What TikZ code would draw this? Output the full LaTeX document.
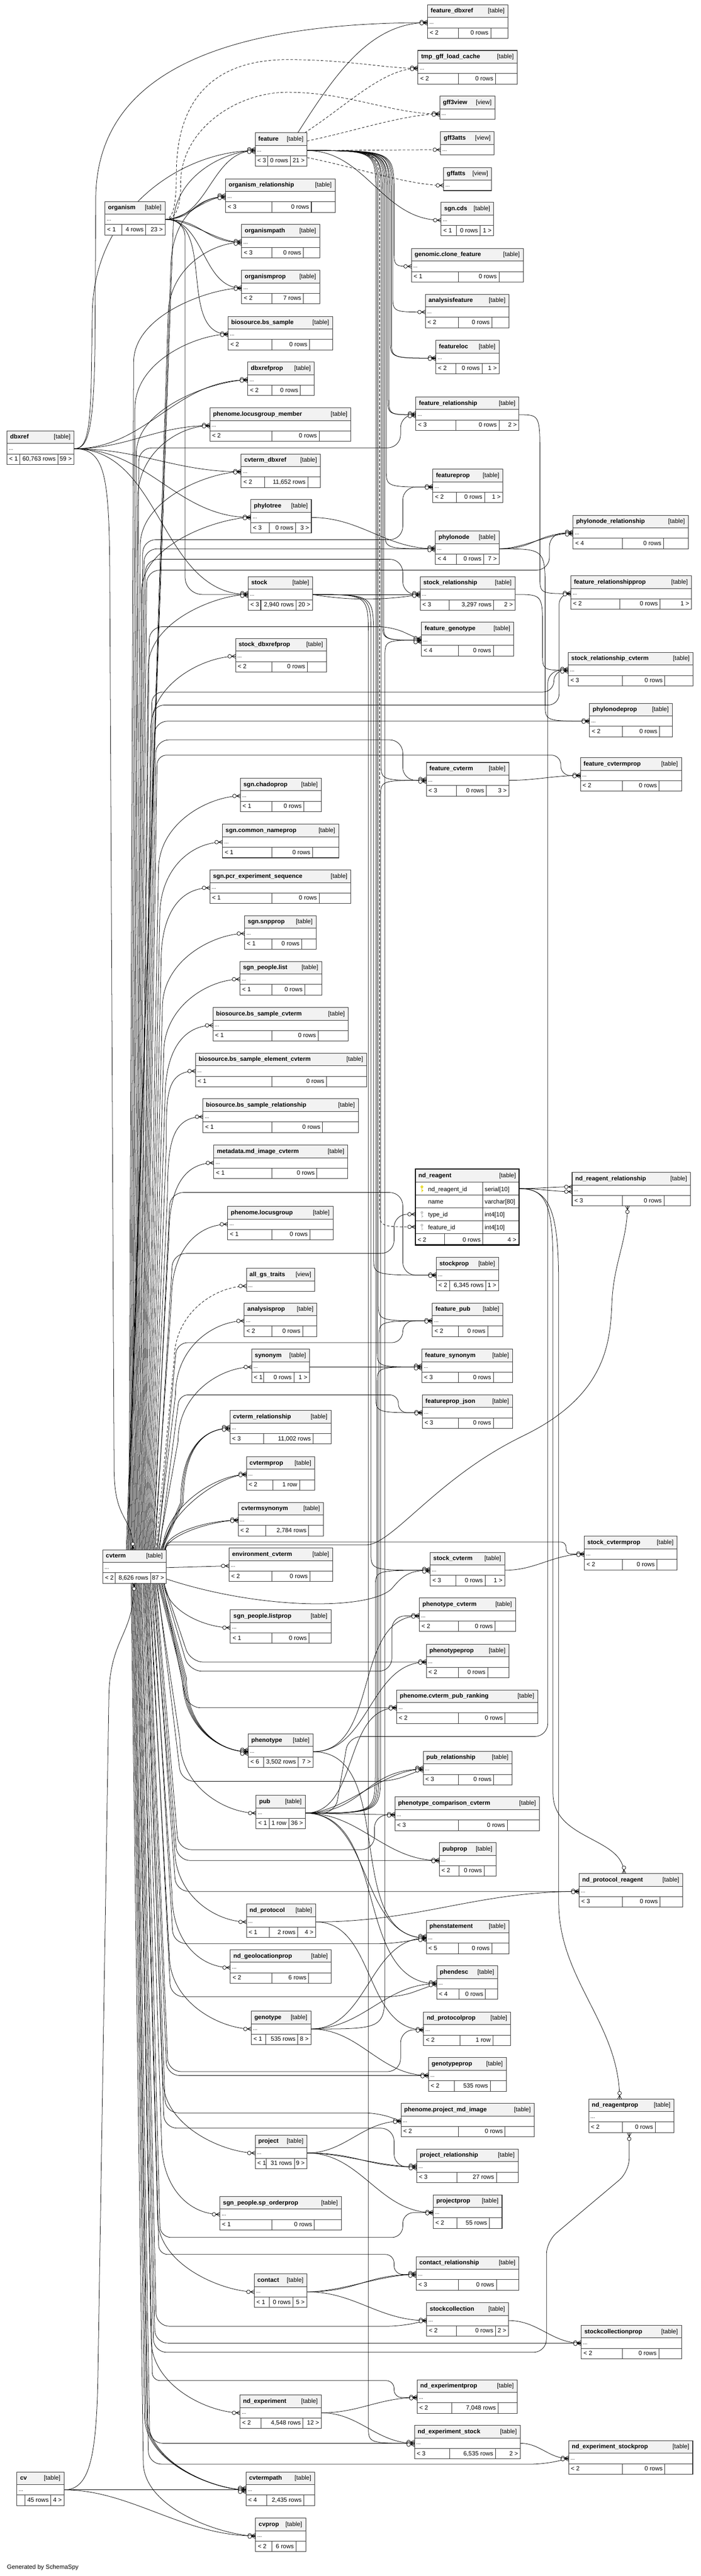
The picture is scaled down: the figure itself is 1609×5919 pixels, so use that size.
\documentclass[tikz,border=0pt]{standalone}
\usepackage{fontspec}
\setmainfont{Liberation Sans}
\usetikzlibrary{calc}
\definecolor{titlefill}{HTML}{F2F2F2}
\definecolor{tborder}{HTML}{333333}
\definecolor{keyyel}{HTML}{E2D200}
\definecolor{keygray}{HTML}{BDBDBD}
\pgfdeclarelayer{bg}
\pgfdeclarelayer{edges}
\pgfsetlayers{bg,edges,main}
\tikzset{
 fk/.style={draw=black, line width=0.9pt},
 imp/.style={fk, dash pattern=on 6pt off 4pt},
 tline/.style={draw=tborder, line width=1.2pt},
 ttitle/.style={anchor=base west, inner sep=0pt, font=\fontsize{14}{16}\selectfont\bfseries},
 ttag/.style={anchor=base east, inner sep=0pt, font=\fontsize{14}{16}\selectfont},
 tleft/.style={anchor=base west, inner sep=0pt, font=\fontsize{14}{16}\selectfont},
 tright/.style={anchor=base east, inner sep=0pt, font=\fontsize{14}{16}\selectfont},
 tdots/.style={anchor=base west, inner sep=0pt, font=\fontsize{12}{14}\selectfont},
 crow/.pic={
   \draw[line width=0.9pt] (-9,0) -- (0,-4.5) (-9,0) -- (0,0) (-9,0) -- (0,4.5);
   \draw[line width=0.9pt, fill=white] (-13.5,0) circle[radius=4.2pt];
 }
}
\def\tblfoot#1|#2|#3\relax{\def\tfa{#1}\def\tfb{#2}\def\tfc{#3}}
\newcommand\tbl[8]{%
 \tblfoot#8\relax
 \fill[white] (#2,#3) rectangle (#4,#3+77);
 \fill[titlefill] (#2,#3) rectangle (#4,#3+29);
 \draw[tline] (#2,#3+29) -- (#4,#3+29) (#2,#3+53) -- (#4,#3+53) (#5,#3+53) -- (#5,#3+77) (#6,#3+53) -- (#6,#3+77);
 \draw[tline] (#2,#3) rectangle (#4,#3+77);
 \node[ttitle] (#1-n) at (#2+7,#3+18.5) {#7};
 \node[ttag] (#1-k) at (#4-8,#3+18.5) {[table]};
 \node[tdots] (#1-d) at (#2+4,#3+44) {...};
 \node[tleft] (#1-fa) at (#2+5,#3+69) {\tfa};
 \node[tright] (#1-fb) at (#6-5,#3+69) {\tfb};
 \node[tright] (#1-fc) at (#4-5,#3+69) {\tfc};
 \coordinate (#1) at (#2,#3+41);
 \coordinate (#1-r) at (#4,#3+41);
}
\newcommand\vw[5]{%
 \fill[white] (#2,#3) rectangle (#4,#3+53);
 \fill[titlefill] (#2,#3) rectangle (#4,#3+29);
 \draw[tline] (#2,#3+29) -- (#4,#3+29);
 \draw[tline] (#2,#3) rectangle (#4,#3+53);
 \node[ttitle] (#1-n) at (#2+7,#3+18.5) {#5};
 \node[ttag] (#1-k) at (#4-8,#3+18.5) {[view]};
 \node[tdots] (#1-d) at (#2+4,#3+44) {...};
 \coordinate (#1) at (#2,#3+41);
}
\newcommand\mkr[2]{\foreach \mi in {1,...,#2}{\pic at ($(#1)+(0,{(\mi-(#2+1)/2)*3})$) {crow};}}
\newcommand\trk[8][fk]{\draw[#1] (#2) .. controls (#4,#3) .. (#4,{#3+(#7)}) -- (#4,{#6-(#8)}) .. controls (#4,#6) .. (#5);}
\newcommand\cvu[5][fk]{\draw[#1] ([xshift=#2pt]cvt-top) -- (#3,{#5+170}) .. controls (#3,{#5+60}) and ($(#4)+(-70,0)$) .. (#4);}
\newcommand\cvdd[4]{\draw[fk] ([xshift=#1pt]cvt-bot) -- (#2,{#4-170}) .. controls (#2,{#4-60}) and ($(#3)+(-70,0)$) .. (#3);}
\newcommand\cvx[8]{\draw[fk,rounded corners=#8pt] ([xshift=#2pt]cvt-#1) -- (#3,#4) -- (#5,#4) -- (#5,#7) -- (#6);}
\newcommand\cvd[5]{\draw[fk,rounded corners=30pt] ([xshift=#2pt]cvt-#1) -- (#3,#5) -- (#4);}
\newcommand\cvg[6]{\draw[fk,rounded corners=30pt] ([xshift=#2pt]cvt-#1) -- (#3,#4) -- (#5,#4) -- (#6);}
\begin{document}
\begin{tikzpicture}[x=1pt,y=-1pt]
\useasboundingbox (0,0) rectangle (1609,5919);
\begin{pgfonlayer}{bg}
\fill[white] (0,0) rectangle (1609,5919);
\end{pgfonlayer}

% ---------------- tables ----------------
\tbl{fdbx}{982}{11}{1167}{1053}{1127}{feature\_dbxref}{< 2|0 rows|}
\tbl{tgff}{960}{116}{1188}{1053}{1138}{tmp\_gff\_load\_cache}{< 2|0 rows|}
\vw{g3v}{1010}{221}{1137}{gff3view}
\vw{g3a}{1012}{303}{1135}{gff3atts}
\vw{gfa}{1019}{385}{1129}{gffatts}
\tbl{cds}{1013}{465}{1134}{1048}{1103}{sgn.cds}{< 1|0 rows|1 >}
\tbl{gcf}{945}{571}{1202}{1053}{1146}{genomic.clone\_feature}{< 1|0 rows|}
\tbl{anf}{977}{676}{1169}{1053}{1130}{analysisfeature}{< 2|0 rows|}
\tbl{floc}{1001}{782}{1146}{1047}{1107}{featureloc}{< 2|0 rows|1 >}
\tbl{frel}{955}{912}{1192}{1047}{1146}{feature\_relationship}{< 3|0 rows|2 >}
\tbl{feat}{586}{305}{705}{615}{667}{feature}{< 3|0 rows|21 >}
\tbl{orel}{518}{411}{770}{624}{715}{organism\_relationship}{< 3|0 rows|}
\tbl{org}{241}{463}{379}{280}{335}{organism}{< 1|4 rows|23 >}
\tbl{opath}{555}{516}{734}{624}{697}{organismpath}{< 3|0 rows|}
\tbl{oprop}{555}{621}{734}{624}{697}{organismprop}{< 2|7 rows|}
\tbl{bss}{524}{727}{764}{624}{711}{biosource.bs\_sample}{< 2|0 rows|}
\tbl{dbxp}{569}{832}{722}{624}{690}{dbxrefprop}{< 2|0 rows|}
\tbl{lgm}{482}{937}{806}{624}{733}{phenome.locusgroup\_member}{< 2|0 rows|}
\tbl{dbx}{16}{990}{170}{46}{133}{dbxref}{< 1|60,763 rows|59 >}
\tbl{cvdbx}{554}{1043}{736}{608}{707}{cvterm\_dbxref}{< 2|11,652 rows|}
\tbl{ptree}{576}{1148}{715}{619}{679}{phylotree}{< 3|0 rows|3 >}
\tbl{stock}{570}{1325}{718}{599}{680}{stock}{< 3|2,940 rows|20 >}
\tbl{sdbxp}{541}{1467}{750}{624}{706}{stock\_dbxrefprop}{< 2|0 rows|}
\tbl{chp}{552}{1788}{738}{624}{698}{sgn.chadoprop}{< 1|0 rows|}
\tbl{cnp}{511}{1894}{778}{624}{718}{sgn.common\_nameprop}{< 1|0 rows|}
\tbl{fprop}{994}{1078}{1155}{1048}{1113}{featureprop}{< 2|0 rows|1 >}
\tbl{pnode}{1000}{1220}{1146}{1048}{1111}{phylonode}{< 4|0 rows|7 >}
\tbl{srel}{965}{1325}{1183}{1032}{1134}{stock\_relationship}{< 3|3,297 rows|2 >}
\tbl{fgen}{968}{1430}{1180}{1053}{1133}{feature\_genotype}{< 4|0 rows|}
\tbl{fcvt}{979}{1752}{1169}{1048}{1117}{feature\_cvterm}{< 3|0 rows|3 >}
\tbl{pnrel}{1316}{1184}{1581}{1429}{1524}{phylonode\_relationship}{< 4|0 rows|}
\tbl{frelp}{1311}{1323}{1588}{1423}{1516}{feature\_relationshipprop}{< 2|0 rows|1 >}
\tbl{srcv}{1305}{1499}{1592}{1429}{1527}{stock\_relationship\_cvterm}{< 3|0 rows|}
\tbl{pnprop}{1354}{1616}{1544}{1429}{1515}{phylonodeprop}{< 2|0 rows|}
\tbl{fcvtp}{1333}{1741}{1565}{1429}{1514}{feature\_cvtermprop}{< 2|0 rows|}
\tbl{pcr}{482}{1999}{806}{624}{733}{sgn.pcr\_experiment\_sequence}{< 1|0 rows|}
\tbl{snp}{562}{2104}{726}{624}{693}{sgn.snpprop}{< 1|0 rows|}
\tbl{plist}{551}{2209}{739}{624}{700}{sgn\_people.list}{< 1|0 rows|}
\tbl{bssc}{489}{2315}{800}{624}{731}{biosource.bs\_sample\_cvterm}{< 1|0 rows|}
\tbl{bssec}{449}{2420}{842}{624}{750}{biosource.bs\_sample\_element\_cvterm}{< 1|0 rows|}
\tbl{bssr}{466}{2525}{823}{624}{741}{biosource.bs\_sample\_relationship}{< 1|0 rows|}
\tbl{mdic}{491}{2631}{799}{624}{728}{metadata.md\_image\_cvterm}{< 1|0 rows|}
\tbl{lg}{523}{2772}{765}{624}{712}{phenome.locusgroup}{< 1|0 rows|}
\vw{ags}{566}{2914}{723}{all\_gs\_traits}
\tbl{ndrr}{1314}{2694}{1586}{1429}{1525}{nd\_reagent\_relationship}{< 3|0 rows|}
\tbl{sprop}{1002}{2889}{1145}{1033}{1116}{stockprop}{< 2|6,345 rows|1 >}
\tbl{anp}{561}{2994}{728}{624}{695}{analysisprop}{< 2|0 rows|}
\tbl{syn}{578}{3100}{711}{605}{675}{synonym}{< 1|0 rows|1 >}
\tbl{cvrel}{528}{3241}{760}{606}{719}{cvterm\_relationship}{< 3|11,002 rows|}
\tbl{cvp}{566}{3347}{723}{627}{688}{cvtermprop}{< 2|1 row|}
\tbl{cvsyn}{547}{3452}{743}{610}{709}{cvtermsynonym}{< 2|2,784 rows|}
\tbl{envc}{526}{3557}{764}{624}{712}{environment\_cvterm}{< 2|0 rows|}
\tbl{cvt}{236}{3561}{382}{265}{346}{cvterm}{< 2|8,626 rows|87 >}
\tbl{lprop}{529}{3699}{760}{624}{710}{sgn\_people.listprop}{< 1|0 rows|}
\tbl{phen}{570}{3984}{719}{605}{685}{phenotype}{< 6|3,502 rows|7 >}
\tbl{fpub}{993}{2994}{1155}{1053}{1120}{feature\_pub}{< 2|0 rows|}
\tbl{fsyn}{969}{3100}{1177}{1053}{1133}{feature\_synonym}{< 3|0 rows|}
\tbl{fpj}{970}{3205}{1177}{1053}{1133}{featureprop\_json}{< 3|0 rows|}
\tbl{scv}{988}{3567}{1159}{1047}{1114}{stock\_cvterm}{< 3|0 rows|1 >}
\tbl{scvp}{1342}{3530}{1555}{1429}{1509}{stock\_cvtermprop}{< 2|0 rows|}
\tbl{phcv}{963}{3672}{1184}{1053}{1137}{phenotype\_cvterm}{< 2|0 rows|}
\tbl{php}{979}{3778}{1169}{1053}{1120}{phenotypeprop}{< 2|0 rows|}
\tbl{cpr}{911}{3883}{1235}{1053}{1160}{phenome.cvterm\_pub\_ranking}{< 2|0 rows|}
\tbl{pubrel}{972}{4024}{1176}{1053}{1134}{pub\_relationship}{< 3|0 rows|}
\tbl{pub}{588}{4125}{701}{618}{663}{pub}{< 1|1 row|36 >}
\tbl{pcc}{907}{4129}{1239}{1053}{1165}{phenotype\_comparison\_cvterm}{< 3|0 rows|}
\tbl{pubp}{1009}{4234}{1139}{1054}{1112}{pubprop}{< 2|0 rows|}
\tbl{npr}{1330}{4305}{1568}{1429}{1516}{nd\_protocol\_reagent}{< 3|0 rows|}
\tbl{ndp}{566}{4375}{725}{619}{684}{nd\_protocol}{< 1|2 rows|4 >}
\tbl{phst}{979}{4412}{1169}{1053}{1130}{phenstatement}{< 5|0 rows|}
\tbl{ngp}{529}{4480}{761}{624}{709}{nd\_geolocationprop}{< 2|6 rows|}
\tbl{phd}{1003}{4517}{1143}{1054}{1115}{phendesc}{< 4|0 rows|}
\tbl{gen}{577}{4621}{714}{610}{684}{genotype}{< 1|535 rows|8 >}
\tbl{ndpp}{973}{4623}{1173}{1056}{1132}{nd\_protocolprop}{< 2|1 row|}
\tbl{genp}{984}{4728}{1163}{1044}{1126}{genotypeprop}{< 2|535 rows|}
\tbl{nrp}{1352}{4823}{1548}{1429}{1505}{nd\_reagentprop}{< 2|0 rows|}
\tbl{pmi}{921}{4833}{1227}{1053}{1160}{phenome.project\_md\_image}{< 2|0 rows|}
\tbl{proj}{586}{4906}{705}{611}{676}{project}{< 1|31 rows|9 >}
\tbl{prel}{957}{4938}{1190}{1049}{1140}{project\_relationship}{< 3|27 rows|}
\tbl{pjp}{995}{5043}{1153}{1049}{1124}{projectprop}{< 2|55 rows|}
\tbl{spo}{505}{5047}{784}{624}{722}{sgn\_people.sp\_orderprop}{< 1|0 rows|}
\tbl{crel}{956}{5185}{1192}{1053}{1140}{contact\_relationship}{< 3|0 rows|}
\tbl{cont}{584}{5225}{705}{618}{673}{contact}{< 1|0 rows|5 >}
\tbl{scol}{980}{5291}{1168}{1048}{1138}{stockcollection}{< 2|0 rows|2 >}
\tbl{scolp}{1335}{5343}{1565}{1429}{1513}{stockcollectionprop}{< 2|0 rows|}
\tbl{nexpp}{958}{5468}{1188}{1038}{1144}{nd\_experimentprop}{< 2|7,048 rows|}
\tbl{nexp}{551}{5503}{738}{600}{696}{nd\_experiment}{< 2|4,548 rows|12 >}
\tbl{nexs}{952}{5573}{1195}{1033}{1138}{nd\_experiment\_stock}{< 3|6,535 rows|2 >}
\tbl{nexsp}{1306}{5608}{1591}{1429}{1527}{nd\_experiment\_stockprop}{< 2|0 rows|}
\tbl{cv}{39}{5680}{147}{57}{117}{cv}{|45 rows|4 >}
\tbl{cvpath}{565}{5680}{723}{613}{698}{cvtermpath}{< 4|2,435 rows|}
\tbl{cvprop}{587}{5786}{702}{624}{680}{cvprop}{< 2|6 rows|}

% nd_reagent (focus table)
\fill[white] (954,2686) rectangle (1192,2861);
\fill[titlefill] (954,2686) rectangle (1192,2716);
\draw[tline] (954,2716) -- (1192,2716) (954,2746) -- (1192,2746) (954,2775) -- (1192,2775) (954,2805) -- (1192,2805) (954,2834) -- (1192,2834) (1109,2716) -- (1109,2861) (1021,2834) -- (1021,2861);
\draw[line width=3.2pt,black] (954,2686) rectangle (1192,2861);
\node[ttitle] (ndr-n) at (961,2706) {nd\_reagent};
\node[ttag] (ndr-k) at (1185,2706) {[table]};
\node[tleft] (ndr-c1) at (983,2737) {nd\_reagent\_id}; \node[tleft] (ndr-t1) at (1113,2737) {serial[10]};
\node[tleft] (ndr-c2) at (983,2766) {name}; \node[tleft] (ndr-t2) at (1113,2766) {varchar[80]};
\node[tleft] (ndr-c3) at (983,2796) {type\_id}; \node[tleft] (ndr-t3) at (1113,2796) {int4[10]};
\node[tleft] (ndr-c4) at (983,2825) {feature\_id}; \node[tleft] (ndr-t4) at (1113,2825) {int4[10]};
\node[tleft] (ndr-fa) at (959,2853) {< 2}; \node[tright] (ndr-fb) at (1104,2853) {0 rows}; \node[tright] (ndr-fc) at (1186,2853) {4 >};
\foreach \ky/\kc in {2727/keyyel,2786/keygray,2815/keygray}{
  \fill[\kc] (969,\ky) circle[radius=3pt];
  \fill[\kc] (968.2,\ky) rectangle (969.8,\ky+12);
  \fill[\kc] (969.8,\ky+8) rectangle (971.6,\ky+9.6);
  \fill[white] (969,\ky) circle[radius=1pt];
}
\coordinate (ndr-type) at (954,2790);
\coordinate (ndr-feat) at (954,2819);
\coordinate (ndr-r) at (1192,2731);
\coordinate (ndrr1) at (1314,2727);
\coordinate (ndrr2) at (1314,2738);
\coordinate (ndrr-bot) at (1441,2771);
\coordinate (npr-top) at (1433,4305);
\coordinate (nrp-top) at (1423,4823);
\coordinate (nrp-bot) at (1445,4901);
\coordinate (cvt-top) at (0,3561);
\coordinate (cvt-bot) at (0,3637);
\coordinate (cvt-tp) at (305,3561);
\coordinate (cvt-bp) at (308,3637);
\coordinate (cvt-r2) at (382,3628);
\coordinate (feat-t) at (684,305);
\coordinate (feat-tr) at (700,305);
\coordinate (feat-r1) at (705,324);
\coordinate (feat-r2) at (705,362);

\node[tleft] (genby) at (16,5903) {Generated by SchemaSpy};

% ---------------- connectors ----------------
\begin{pgfonlayer}{edges}
% feature
\draw[fk] (feat-t) .. controls (770,170) and (850,52) .. (fdbx);
\draw[imp] (feat-tr) .. controls (800,240) and (880,157) .. (tgff);
\draw[imp] (feat-r1) .. controls (820,300) and (930,262) .. (g3v);
\draw[imp] (feat-r) -- (g3a);
\draw[imp] (feat-r2) .. controls (820,385) and (940,426) .. (gfa);
\draw[fk] (feat-r) to[out=0,in=180] (cds);
\trk{feat-r}{346}{905}{gcf}{612}{100}{40}
\trk{feat-r}{346}{902}{anf}{717}{100}{40}
\trk{feat-r}{346}{899}{floc}{823}{100}{40}
\trk{feat-r}{346}{896}{floc}{823}{110}{45}
\trk{feat-r}{346}{893}{frel}{953}{100}{40}
\trk{feat-r}{346}{890}{frel}{953}{110}{45}
\trk{feat-r}{346}{887}{fprop}{1119}{100}{40}
\trk{feat-r}{346}{884}{pnode}{1261}{100}{40}
\trk{feat-r}{346}{881}{fgen}{1471}{100}{40}
\trk{feat-r}{346}{878}{fgen}{1471}{110}{45}
\trk{feat-r}{346}{875}{fcvt}{1793}{100}{40}
\trk[imp]{feat-r}{346}{872}{ndr-feat}{2819}{100}{40}
\trk{feat-r}{346}{869}{fpub}{3035}{100}{40}
\trk{feat-r}{346}{866}{fsyn}{3141}{100}{40}
\trk{feat-r}{346}{863}{fpj}{3246}{100}{40}
% organism
\draw[fk] (org-r) to[out=0,in=180] (feat);
\draw[fk] (org-r) to[out=0,in=180,looseness=0.8] (orel);
\draw[fk] (org-r) to[out=0,in=180,looseness=1.2] (orel);
\draw[fk] (org-r) to[out=0,in=180,looseness=0.8] (opath);
\draw[fk] (org-r) to[out=0,in=180,looseness=1.2] (opath);
\draw[fk] (org-r) to[out=0,in=180] (oprop);
\draw[fk] (org-r) to[out=0,in=180] (bss);
\draw[fk,rounded corners=40pt] (org-r) -- (425,504) -- (425,1366) -- (stock);
\draw[imp] (org-r) .. controls (400,504) and (405,460) .. (405,400) .. controls (405,200) and (520,137) .. (660,137) .. controls (800,137) and (880,157) .. (tgff);
\draw[imp] (org-r) .. controls (410,504) and (415,460) .. (415,420) .. controls (415,300) and (540,212) .. (660,212) .. controls (800,212) and (900,262) .. (g3v);
% dbxref
\draw[fk] (dbx-r) .. controls (200,1031) and (215,1000) .. (218,800) -- (220,450) .. controls (225,200) and (450,52) .. (fdbx);
\draw[fk] (dbx-r) .. controls (198,1031) and (208,1000) .. (210,850) -- (212,720) .. controls (215,480) and (420,346) .. (feat);
\draw[fk] (dbx-r) to[out=0,in=180] (dbxp);
\draw[fk] (dbx-r) to[out=0,in=180] (lgm);
\draw[fk] (dbx-r) to[out=0,in=180] (cvdbx);
\draw[fk] (dbx-r) to[out=0,in=180] (ptree);
\draw[fk] (dbx-r) to[out=0,in=180] (stock);
\draw[fk] (dbx-r) .. controls (240,1031) and (250,1090) .. (252,1300) -- (262,3380) .. controls (264,3500) and (305,3480) .. (cvt-tp);
% cv
\draw[fk] (cv-r) .. controls (205,5721) and (222,5650) .. (225,5450) -- (250,3900) .. controls (252,3760) and (308,3760) .. (cvt-bp);
\draw[fk] (cv-r) -- (cvpath);
\draw[fk] (cv-r) .. controls (300,5721) and (420,5827) .. (cvprop);
% smaller groups
\draw[fk] (ptree-r) to[out=0,in=180] (pnode);
\draw[fk] (pnode-r) to[out=0,in=180,looseness=0.8] (pnrel);
\draw[fk] (pnode-r) to[out=0,in=180,looseness=1.3] (pnrel);
\trk{pnode-r}{1261}{1252}{pnprop}{1657}{100}{40}
\trk{frel-r}{953}{1240}{frelp}{1364}{100}{40}
\trk{srel-r}{1366}{1246}{srcv}{1540}{80}{40}
\draw[fk] (fcvt-r) to[out=0,in=180] (fcvtp);
\draw[fk] (stock-r) -- (srel);
\draw[fk] (stock-r) .. controls (800,1380) and (880,1380) .. (srel);
\trk{stock-r}{1366}{858}{sprop}{2930}{100}{40}
\trk{stock-r}{1366}{852}{scv}{3608}{100}{40}
\trk{stock-r}{1366}{846}{nexs}{5614}{100}{40}
\draw[fk] (syn-r) -- (fsyn);
\draw[fk] (scv-r) to[out=0,in=180] (scvp);
\draw[fk] (phen-r) to[out=0,in=180] (phcv);
\draw[fk] (phen-r) to[out=0,in=180] (php);
\draw[fk] (phen-r) to[out=0,in=180] (phst);
\draw[fk] (pub-r) to[out=0,in=180,looseness=0.8] (pubrel);
\draw[fk] (pub-r) to[out=0,in=180,looseness=1.2] (pubrel);
\draw[fk] (pub-r) -- (pcc);
\draw[fk] (pub-r) to[out=0,in=180] (pubp);
\draw[fk] (pub-r) to[out=0,in=180] (phst);
\draw[fk] (pub-r) to[out=0,in=180] (phd);
\draw[fk] (pub-r) to[out=0,in=180] (cpr);
\trk{pub-r}{4166}{862}{scv}{3608}{-100}{-40}
\trk{pub-r}{4166}{866}{fsyn}{3141}{-100}{-40}
\trk{pub-r}{4166}{870}{fpub}{3035}{-100}{-40}
\trk{pub-r}{4166}{874}{fcvt}{1793}{-100}{-40}
\draw[fk,rounded corners=30pt] (pub-r) -- (770,4166) -- (800,3990) -- (1258,3990) -- (1258,1540) -- (srcv);
\trk{gen-r}{4662}{884}{fgen}{1471}{-100}{-40}
\draw[fk] (gen-r) to[out=0,in=180] (phst);
\draw[fk] (gen-r) to[out=0,in=180] (phd);
\draw[fk] (gen-r) to[out=0,in=180] (genp);
\draw[fk] (ndp-r) to[out=0,in=180] (npr);
\draw[fk] (ndp-r) to[out=0,in=180] (ndpp);
\draw[fk] (proj-r) to[out=0,in=180] (pmi);
\draw[fk] (proj-r) to[out=0,in=180,looseness=0.8] (prel);
\draw[fk] (proj-r) to[out=0,in=180,looseness=1.2] (prel);
\draw[fk] (proj-r) to[out=0,in=180] (pjp);
\draw[fk] (cont-r) to[out=0,in=180,looseness=0.8] (crel);
\draw[fk] (cont-r) to[out=0,in=180,looseness=1.2] (crel);
\draw[fk] (cont-r) to[out=0,in=180] (scol);
\draw[fk] (scol-r) to[out=0,in=180] (scolp);
\draw[fk] (nexp-r) to[out=0,in=180] (nexpp);
\draw[fk] (nexp-r) to[out=0,in=180] (nexs);
\draw[fk] (nexs-r) to[out=0,in=180] (nexsp);
% nd_reagent
\draw[fk] (ndr-r) .. controls (1240,2731) and (1270,2727) .. (ndrr1);
\draw[fk] (ndr-r) .. controls (1240,2731) and (1270,2738) .. (ndrr2);
\draw[fk] (ndr-r) .. controls (1250,2731) and (1270,2760) .. (1270,2900) -- (1270,4120) .. controls (1270,4230) and (1433,4220) .. (npr-top);
\draw[fk] (ndr-r) .. controls (1262,2731) and (1283,2780) .. (1283,2950) -- (1283,4370) .. controls (1283,4550) and (1423,4650) .. (nrp-top);
% cvterm, upwards
\cvu{290}{398}{feat}{346}
\cvu{292}{392}{orel}{452}
\cvu{294}{386}{opath}{557}
\cvu{296}{307}{oprop}{662}
\cvu{298}{310}{bss}{768}
\cvu{300}{313}{dbxp}{873}
\cvu{302}{316}{lgm}{978}
\cvx{top}{304}{319}{1029}{920}{frel}{953}{30}
\cvu{306}{322}{cvdbx}{1084}
\cvu{308}{325}{ptree}{1189}
\cvx{top}{310}{328}{1240}{925}{fprop}{1119}{30}
\cvd{top}{312}{331}{pnode}{1261}
\cvx{top}{314}{334}{1285}{925}{srel}{1366}{30}
\cvx{top}{316}{337}{1310}{1262}{pnrel}{1225}{30}
\cvu{318}{340}{stock}{1366}
\cvg{top}{320}{343}{1440}{900}{fgen}
\cvu{322}{346}{sdbxp}{1508}
\cvx{top}{324}{349}{1590}{1272}{srcv}{1540}{25}
\cvx{top}{326}{352}{1620}{1284}{frelp}{1364}{25}
\cvd{top}{328}{355}{pnprop}{1657}
\cvx{top}{330}{358}{1700}{925}{fcvt}{1793}{30}
\cvx{top}{332}{361}{1735}{1288}{fcvtp}{1782}{22}
\cvu{334}{364}{chp}{1829}
\cvu{336}{367}{cnp}{1935}
\cvu{338}{370}{pcr}{2040}
\cvu{340}{373}{snp}{2145}
\cvu{342}{376}{plist}{2250}
\cvu{344}{379}{bssc}{2356}
\cvu{346}{382}{bssec}{2461}
\cvu{348}{385}{bssr}{2566}
\cvu{350}{388}{mdic}{2672}
\cvx{top}{352}{391}{2740}{925}{sprop}{2930}{30}
\cvu{354}{394}{lg}{2813}
\cvx{top}{356}{397}{2880}{905}{ndr-type}{2790}{30}
\cvu[imp]{358}{400}{ags}{2955}
\cvu{360}{403}{anp}{3035}
\cvx{top}{362}{406}{3085}{925}{fpub}{3035}{25}
\cvu{364}{409}{syn}{3141}
\cvx{top}{366}{412}{3205}{915}{fpj}{3246}{20}
\cvu{368}{415}{cvrel}{3282}
\cvu{370}{418}{cvrel}{3282}
\cvu{372}{421}{cvrel}{3282}
\draw[fk] ([xshift=374pt]cvt-top) .. controls (374,3470) and (490,3388) .. (cvp);
\draw[fk] ([xshift=376pt]cvt-top) .. controls (378,3480) and (505,3388) .. (cvp);
\draw[fk] ([xshift=378pt]cvt-top) .. controls (380,3520) and (480,3493) .. (cvsyn);
\draw[fk] ([xshift=380pt]cvt-top) .. controls (384,3525) and (495,3493) .. (cvsyn);
\draw[fk,rounded corners=12pt] ([xshift=381pt]cvt-top) -- (381,3543) -- (1300,3543) -- (1300,3571) -- (scvp);
\draw[fk,rounded corners=10pt] ([xshift=379pt]cvt-top) -- (379,3550) -- (830,3550) .. controls (900,3550) and (1000,3400) .. (1200,3300) .. controls (1380,3210) and (1400,3100) .. (1405,3000) .. controls (1410,2900) and (1441,2850) .. (ndrr-bot);
% cvterm, right side
\draw[fk] (cvt-r) -- (envc);
\draw[fk] (cvt-r2) .. controls (600,3700) and (850,3700) .. (900,3650) .. controls (925,3620) and (940,3608) .. (scv);
% cvterm, downwards
\draw[fk] ([xshift=378pt]cvt-bot) .. controls (378,3700) and (470,3740) .. (lprop);
\cvd{bot}{376}{437}{php}{3819}
\cvx{bot}{374}{434}{3840}{900}{phcv}{3713}{30}
\cvd{bot}{372}{431}{cpr}{3924}
\cvdd{370}{428}{phen}{4025}
\cvdd{367}{425}{phen}{4025}
\cvdd{365}{422}{phen}{4025}
\cvdd{363}{419}{phen}{4025}
\cvg{bot}{361}{416}{4093}{900}{pubrel}
\cvdd{359}{413}{pub}{4166}
\cvx{bot}{357}{410}{4250}{860}{pcc}{4170}{30}
\cvd{bot}{355}{407}{pubp}{4275}
\cvd{bot}{353}{404}{npr}{4346}
\cvdd{351}{401}{ndp}{4416}
\cvg{bot}{349}{398}{4466}{900}{phst}
\cvdd{346}{395}{ngp}{4521}
\cvg{bot}{344}{392}{4588}{920}{phd}
\cvdd{342}{389}{gen}{4662}
\cvx{bot}{340}{386}{4760}{920}{ndpp}{4664}{30}
\cvd{bot}{338}{383}{genp}{4769}
\cvg{bot}{336}{380}{4855}{870}{pmi}
\cvx{bot}{334}{377}{4890}{905}{prel}{4979}{30}
\cvdd{332}{374}{proj}{4947}
\cvdd{330}{371}{spo}{5088}
\cvx{bot}{328}{368}{5141}{925}{pjp}{5084}{25}
\cvx{bot}{325}{365}{5180}{905}{crel}{5226}{20}
\cvdd{323}{362}{cont}{5266}
\cvg{bot}{321}{359}{5345}{920}{scol}
\cvd{bot}{319}{356}{scolp}{5384}
\draw[fk,rounded corners=30pt] ([xshift=317pt]cvt-bot) -- (353,5405) -- (1255,5405) -- (1255,5150) -- (1445,4990) -- (nrp-bot);
\cvx{bot}{315}{350}{5470}{905}{nexpp}{5509}{18}
\cvdd{313}{347}{nexp}{5544}
\cvd{bot}{311}{344}{nexs}{5614}
\cvg{bot}{309}{341}{5662}{1250}{nexsp}
\cvdd{307}{338}{cvpath}{5721}
\cvdd{305}{335}{cvpath}{5721}
\cvdd{303}{332}{cvpath}{5721}
\cvdd{301}{329}{cvprop}{5827}
\end{pgfonlayer}

% ---------------- markers ----------------
\mkr{fdbx}{2} \mkr{tgff}{2} \mkr{g3v}{2} \mkr{g3a}{1} \mkr{gfa}{1} \mkr{cds}{1}
\mkr{gcf}{1} \mkr{anf}{1} \mkr{floc}{2} \mkr{frel}{3} \mkr{feat}{3} \mkr{orel}{3}
\mkr{opath}{3} \mkr{oprop}{2} \mkr{bss}{2} \mkr{dbxp}{2} \mkr{lgm}{2} \mkr{cvdbx}{2}
\mkr{ptree}{2} \mkr{stock}{3} \mkr{sdbxp}{1} \mkr{chp}{1} \mkr{cnp}{1} \mkr{fprop}{2}
\mkr{pnode}{3} \mkr{srel}{3} \mkr{fgen}{4} \mkr{fcvt}{3} \mkr{pnrel}{3} \mkr{frelp}{2}
\mkr{srcv}{3} \mkr{pnprop}{2} \mkr{fcvtp}{2} \mkr{pcr}{1} \mkr{snp}{1} \mkr{plist}{1}
\mkr{bssc}{1} \mkr{bssec}{1} \mkr{bssr}{1} \mkr{mdic}{1} \mkr{lg}{1} \mkr{ags}{1}
\mkr{ndr-type}{1} \mkr{ndr-feat}{1} \mkr{ndrr1}{1} \mkr{ndrr2}{1} \mkr{sprop}{2}
\mkr{anp}{1} \mkr{syn}{1} \mkr{cvrel}{3} \mkr{cvp}{2} \mkr{cvsyn}{2} \mkr{envc}{1}
\mkr{lprop}{1} \mkr{phen}{4} \mkr{fpub}{2} \mkr{fsyn}{3} \mkr{fpj}{2} \mkr{scv}{3}
\mkr{scvp}{2} \mkr{phcv}{2} \mkr{php}{2} \mkr{cpr}{2} \mkr{pubrel}{3} \mkr{pub}{1}
\mkr{pcc}{2} \mkr{pubp}{2} \mkr{npr}{2} \mkr{ndp}{1} \mkr{phst}{4} \mkr{ngp}{1}
\mkr{phd}{3} \mkr{gen}{1} \mkr{ndpp}{2} \mkr{genp}{2} \mkr{pmi}{2} \mkr{proj}{1}
\mkr{prel}{3} \mkr{pjp}{2} \mkr{spo}{1} \mkr{crel}{3} \mkr{cont}{1} \mkr{scol}{2}
\mkr{scolp}{2} \mkr{nexpp}{2} \mkr{nexp}{1} \mkr{nexs}{3} \mkr{nexsp}{2} \mkr{cvpath}{4}
\mkr{cvprop}{2}
\pic[rotate=-90] at (cvt-tp) {crow};
\pic[rotate=90] at (cvt-bp) {crow};
\pic[rotate=90] at (ndrr-bot) {crow};
\pic[rotate=-90] at (npr-top) {crow};
\pic[rotate=-90] at (nrp-top) {crow};
\pic[rotate=90] at (nrp-bot) {crow};
\end{tikzpicture}
\end{document}
